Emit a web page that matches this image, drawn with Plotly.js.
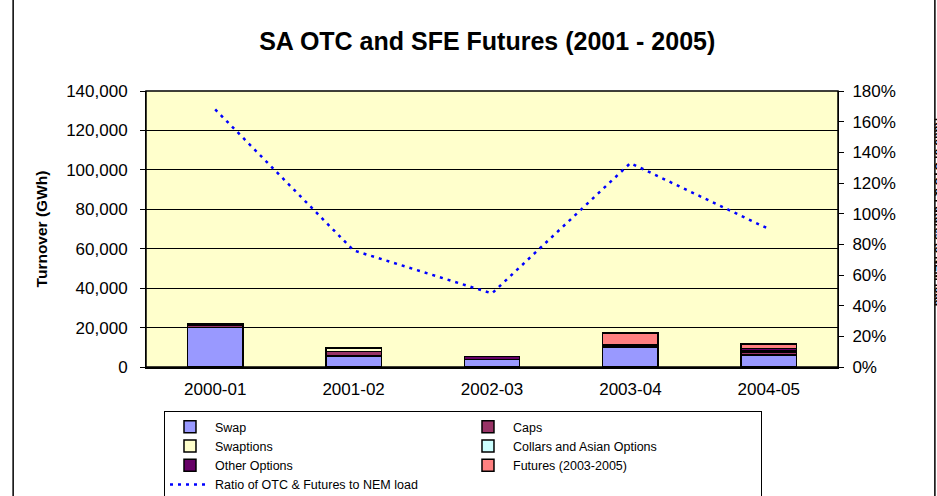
<!DOCTYPE html>
<html>
<head>
<meta charset="utf-8">
<script src="https://cdn.plot.ly/plotly-3.0.1.min.js"></script>
<style>
html,body{margin:0;padding:0;background:#fff;}
#chart{width:937px;height:496px;}
</style>
</head>
<body>
<div id="chart"></div>
<script>
const categories = ["2000-01", "2001-02", "2002-03", "2003-04", "2004-05"];
const swap         = [20000, 5600, 3800, 10000, 6000];
const caps         = [1300, 2300, 0, 0, 1400];
const swaptions    = [0, 1400, 0, 500, 600];
const collars      = [0, 0, 0, 700, 400];
const otherOptions = [800, 500, 1600, 0, 900];
const futures      = [0, 0, 0, 6000, 2300];
const ratio        = [1.68, 0.76, 0.48, 1.33, 0.90];

const font = "Liberation Sans, Arial, sans-serif";
function bar(name, y, color) {
  return {type: "bar", name: name, x: categories, y: y,
    marker: {color: color, line: {color: "#000", width: 1.5}},
    hoverinfo: "x+y+name"};
}
const traces = [
  bar("Swap", swap, "#9999FF"),
  bar("Caps", caps, "#993366"),
  bar("Swaptions", swaptions, "#FFFFCC"),
  bar("Collars and Asian Options", collars, "#CCFFFF"),
  bar("Other Options", otherOptions, "#660066"),
  bar("Futures (2003-2005)", futures, "#FF8080"),
  {type: "scatter", mode: "lines", name: "Ratio of OTC & Futures to NEM load",
   x: categories, y: ratio, yaxis: "y2",
   line: {color: "#0000FF", width: 2.5, dash: "3px,5px"}}
];

const layout = {
  width: 937, height: 496,
  margin: {l: 146, r: 99, t: 91, b: 129, autoexpand: false},
  paper_bgcolor: "#fff", plot_bgcolor: "#FFFFCC",
  font: {family: font, size: 17, color: "#000"},
  barmode: "stack", bargap: 0.6,
  showlegend: true,
  title: {text: "<b>SA OTC and SFE Futures (2001 - 2005)</b>", font: {size: 25, family: font},
          x: 0.52, xanchor: "center", y: 0.917, yanchor: "middle"},
  xaxis: {type: "category", showline: true, linecolor: "#000", linewidth: 1.5,
          ticks: "", tickfont: {size: 17}, ticklabelstandoff: 6, fixedrange: true},
  yaxis: {range: [0, 140000], dtick: 20000, tickformat: ",d",
          showline: true, linecolor: "#000", linewidth: 1, ticks: "outside", ticklen: 5,
          tickcolor: "#000", gridcolor: "#000", gridwidth: 1, zeroline: false,
          tickfont: {size: 17}, ticklabelstandoff: 9,
          title: {text: "<b>Turnover (GWh)</b>", font: {size: 15.5}, standoff: 14}},
  yaxis2: {overlaying: "y", side: "right", range: [0, 1.8], dtick: 0.2, tickformat: ".0%",
           showline: true, linecolor: "#000", linewidth: 1, ticks: "outside", ticklen: 5,
           tickcolor: "#000", showgrid: false, zeroline: false, tickfont: {size: 17},
           ticklabelstandoff: 5},
  legend: {orientation: "h", x: 0.026, xanchor: "left", y: -0.16, yanchor: "top",
           entrywidth: 243, entrywidthmode: "pixels",
           bgcolor: "#fff", bordercolor: "#000", borderwidth: 1,
           font: {size: 12.5, family: font}, traceorder: "normal", itemwidth: 40,
           tracegroupgap: 0},
  shapes: [
    {type: "rect", xref: "paper", yref: "paper", x0: -0.192, x1: 1.14, y0: -0.5, y1: 1.35,
     line: {color: "#000", width: 1.5}, fillcolor: "rgba(0,0,0,0)", layer: "below"},
    {type: "rect", xref: "paper", yref: "paper", x0: 0, x1: 1, y0: 0, y1: 1,
     line: {color: "#000", width: 1.5}, fillcolor: "rgba(0,0,0,0)"}
  ],
  annotations: [
    {text: "<b>Ratio of OTC & Futures to NEM load</b>", xref: "paper", yref: "paper",
     x: 1.145, y: 0.56, xanchor: "center", yanchor: "middle", textangle: 90,
     showarrow: false, font: {size: 11}}
  ]
};
Plotly.newPlot("chart", traces, layout, {displayModeBar: false, staticPlot: true});
</script>
</body>
</html>
